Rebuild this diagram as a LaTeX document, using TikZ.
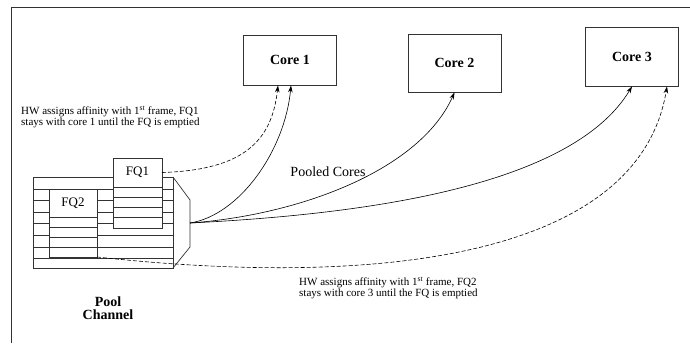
\documentclass[tikz,border=0pt]{standalone}
\usepackage{fontspec}
\setmainfont{Liberation Serif}
\usetikzlibrary{calc,positioning,arrows.meta}
\tikzstyle{core} = [rectangle, minimum width=93pt, draw=black!80, line width=0.8pt, font=\fontsize{14}{16}\selectfont\bfseries]
\tikzstyle{fqhead} = [rectangle, minimum width=49pt, minimum height=29pt, outer sep=0pt, draw=black!80, fill=white, line width=0.7pt, font=\fontsize{13}{15}\selectfont]
\tikzstyle{fqbody} = [rectangle, minimum width=49pt, outer sep=0pt, draw=black!80, fill=white, line width=0.7pt]
\tikzstyle{cell} = [draw=black!80, line width=0.7pt]
\tikzstyle{note} = [align=left, inner sep=0pt, font=\fontsize{11}{11.5}\selectfont]
\tikzstyle{arrow} = [line width=0.6pt,->,>={Stealth[length=7pt,width=4.5pt]}]
\tikzstyle{dasharrow} = [arrow, dash pattern=on 4pt off 2pt]

\begin{document}
\begin{tikzpicture}[x=1pt, y=-1pt]
    \useasboundingbox (0,0) rectangle (690,343);
    \draw[cell, line width=1pt] (690,7) -- (11,7) -- (11,343);

    % cores
    \node (coreone)[core, minimum height=50pt] at (290,60) {Core 1};
    \node (coretwo)[core, minimum height=58pt] at (454.5,63) {Core 2};
    \node (corethree)[core, minimum height=59pt] at (632,56.5) {Core 3};

    % pool channel
    \draw[cell] (33,177) rectangle (173,268);
    \draw[cell] (33,189) -- (173,189) (33,200) -- (173,200) (33,212) -- (173,212) (33,223) -- (173,223)
      (33,235) -- (173,235) (33,247) -- (173,247) (33,258) -- (173,258) (49,189) -- (49,258);
    \draw[cell] (173,177) -- (190,200) -- (190,247) -- (173,268);
    \coordinate (out) at (190,223);

    \node (fqtwo)[fqhead, minimum width=48pt, minimum height=28pt] at (73,203) {FQ2};
    \node (fqtwobody)[fqbody, minimum width=48pt, minimum height=40pt, below=0pt of fqtwo] {};
    \draw[cell] (49,227) -- (97,227) (49,237) -- (97,237) (49,247) -- (97,247);

    \node (fqone)[fqhead] at (137.5,172.5) {FQ1};
    \node (fqonebody)[fqbody, minimum height=41pt, below=0pt of fqone] {};
    \draw[cell] (113,197.3) -- (162,197.3) (113,207.5) -- (162,207.5) (113,217.8) -- (162,217.8);

    \node (poolname)[align=center, font=\fontsize{14}{12.5}\selectfont\bfseries] at (108,308) {Pool\\Channel};
    \node (pooled)[font=\fontsize{14}{16}\selectfont] at (328,172) {Pooled Cores};

    \node (noteone)[note, anchor=west] at (21,117) {HW assigns affinity with 1\textsuperscript{st} frame, FQ1\\stays with core 1 until the FQ is emptied};
    \node (notetwo)[note, anchor=west] at (299,288) {HW assigns affinity with 1\textsuperscript{st} frame, FQ2\\stays with core 3 until the FQ is emptied};

    % connectors
    \draw[dasharrow] (fqone.east) .. controls (245,170) and (272,140) .. ($(coreone.south)+(-12,0)$);
    \draw[arrow] (out) .. controls (240,215) and (285,150) .. ($(coreone.south)+(1,0)$);
    \draw[arrow] (out) .. controls (300,215) and (420,170) .. (coretwo.south);
    \draw[arrow] (out) .. controls (350,215) and (570,190) .. (corethree.south);
    \draw[dasharrow] (fqtwobody.south east) .. controls (400,290) and (640,250) .. ($(corethree.south)+(35,0)$);
  \end{tikzpicture}
\end{document}
